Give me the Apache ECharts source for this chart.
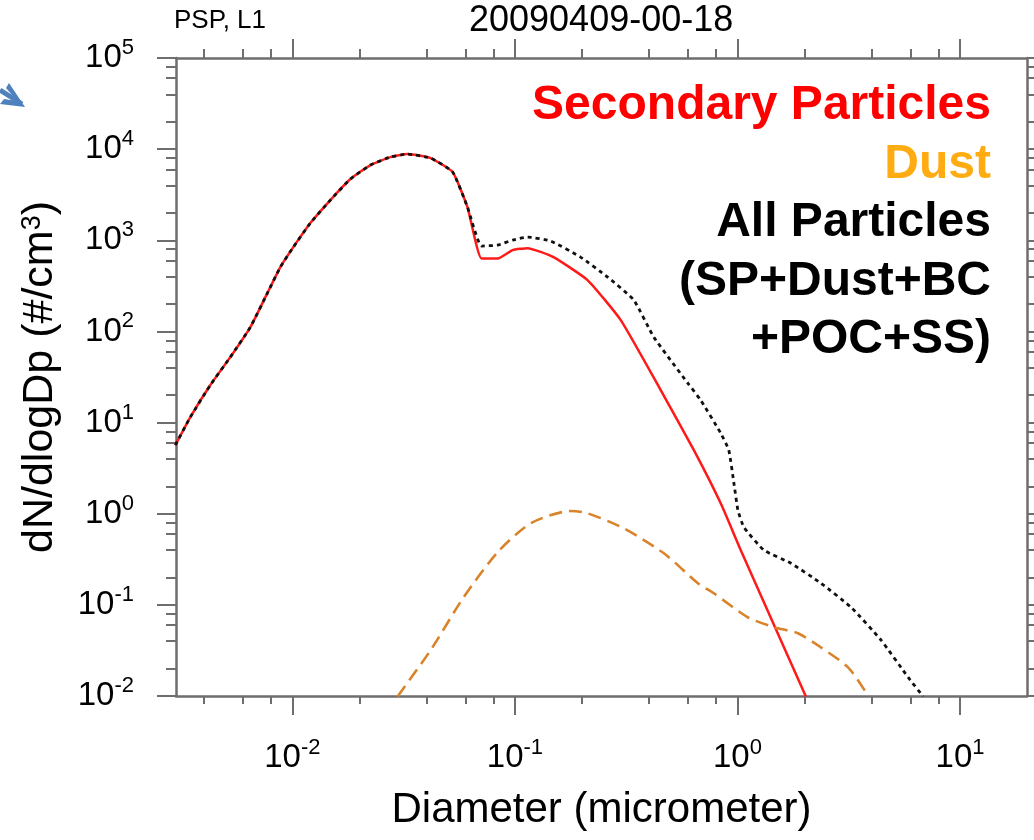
<!DOCTYPE html>
<html>
<head>
<meta charset="utf-8">
<script src="https://cdn.jsdelivr.net/npm/echarts@6/dist/echarts.min.js"></script>
<style>
html, body { margin: 0; padding: 0; background: #fff; }
#chart { width: 1034px; height: 840px; }
</style>
</head>
<body>
<div id="chart"></div>
<script>
// size distribution (diameter in micrometer, dN/dlogDp in #/cm3)
var spDiam = [0.00298, 0.00348, 0.00428, 0.00526, 0.00647, 0.00772, 0.00883, 0.0101, 0.01205, 0.01482, 0.01823, 0.02243, 0.02759, 0.0329, 0.0418, 0.0525, 0.0612, 0.0708, 0.0836, 0.0977, 0.114, 0.149, 0.212, 0.299, 0.452, 0.637, 0.841, 1.035, 2.03];
var spConc = [5.65, 11.5, 25.8, 52.2, 111, 263, 508, 842, 1545, 2762, 4696, 6689, 8183, 8831, 7980, 5610, 2312, 631, 631, 780, 820, 654, 366, 133, 22.7, 4.98, 1.30, 0.398, 0.0099];

var allDiam = [0.00298, 0.00348, 0.00428, 0.00526, 0.00647, 0.00772, 0.00883, 0.0101, 0.01205, 0.01482, 0.01823, 0.02243, 0.02759, 0.0329, 0.0418, 0.0525, 0.0612, 0.0708, 0.0836, 0.0977, 0.114, 0.145, 0.197, 0.261, 0.342, 0.421, 0.598, 0.684, 0.841, 0.914, 0.964, 1.005, 1.069, 1.315, 1.738, 2.37, 3.24, 4.42, 5.85, 6.82];
var allConc = [5.65, 11.5, 25.8, 52.2, 111, 263, 508, 842, 1545, 2762, 4696, 6689, 8183, 8831, 7980, 5610, 2312, 865, 885, 1005, 1084, 980, 654, 395, 221, 86.5, 27.1, 17.6, 7.65, 4.98, 2.16, 1.09, 0.711, 0.398, 0.286, 0.173, 0.094, 0.041, 0.016, 0.0099];

var dustDiam = [0.0297, 0.0418, 0.0588, 0.0836, 0.118, 0.178, 0.212, 0.308, 0.467, 0.664, 0.783, 1.114, 1.459, 1.87, 2.37, 3.14, 3.78, 3.86];
var dustConc = [0.0099, 0.0318, 0.121, 0.378, 0.787, 1.07, 1.01, 0.693, 0.368, 0.173, 0.134, 0.073, 0.0568, 0.0488, 0.0342, 0.0206, 0.011, 0.0099];

var xMajor = [0.01, 0.1, 1, 10];
var xMinor = [0.004, 0.006, 0.008, 0.02, 0.04, 0.06, 0.08, 0.2, 0.4, 0.6, 0.8, 2, 4, 6, 8];
var yMajor = [0.01, 0.1, 1, 10, 100, 1000, 10000, 100000];
var yMinor = [0.02, 0.04, 0.06, 0.08, 0.2, 0.4, 0.6, 0.8, 2, 4, 6, 8, 20, 40, 60, 80,
              200, 400, 600, 800, 2000, 4000, 6000, 8000, 20000, 40000, 60000, 80000];

var legendLines = [
    ['Secondary Particles', '#ff0000'],
    ['Dust', '#ffab12'],
    ['All Particles', '#000000'],
    ['(SP+Dust+BC', '#000000'],
    ['+POC+SS)', '#000000']
];

function pairs(xs, ys) {
    return xs.map(function (x, i) { return [x, ys[i]]; });
}

var FONT = 'Liberation Sans';
var frameColor = '#6e6e6e';

function sci(v) {
    var e = Math.round(Math.log(v) / Math.LN10);
    return '{b|10}{s|' + e + '}';
}
var sciRich = {
    b: { fontSize: 33, fontFamily: FONT, color: '#000', lineHeight: 42 },
    s: { fontSize: 22, fontFamily: FONT, color: '#000', lineHeight: 23, verticalAlign: 'top' }
};

function logAxis(pos, min, max, ticks, len, frame, labels, extra) {
    var ax = {
        type: 'log',
        gridIndex: 0,
        position: pos,
        min: min,
        max: max,
        axisLine: { show: frame, onZero: false, lineStyle: { color: frameColor, width: 2.5 } },
        axisTick: { show: true, customValues: ticks, length: len, lineStyle: { color: frameColor, width: 2 } },
        axisLabel: { show: false },
        splitLine: { show: false },
        minorTick: { show: false }
    };
    if (labels) {
        ax.axisLabel = {
            show: true,
            customValues: ticks,
            formatter: sci,
            rich: sciRich,
            margin: labels
        };
    }
    for (var k in extra) ax[k] = extra[k];
    return ax;
}

var chart = echarts.init(document.getElementById('chart'));

var graphics = legendLines.map(function (l, i) {
    return {
        type: 'text',
        x: 991,
        y: 106 + i * 58.5,
        style: {
            text: l[0],
            fill: l[1],
            font: 'bold 48px "Liberation Sans"',
            align: 'right',
            verticalAlign: 'middle'
        }
    };
});
// slide arrow peeking in at the top left
graphics.push({
    type: 'polyline',
    shape: { points: [[0, 90], [22, 104]] },
    style: { stroke: '#4f81bd', lineWidth: 5, fill: null }
});
graphics.push({
    type: 'polygon',
    shape: { points: [[9, 83], [25, 107], [0, 104], [4, 99], [17, 101], [6, 88]] },
    style: { fill: '#4f81bd' }
});

chart.setOption({
    backgroundColor: '#fff',
    animation: false,
    title: [
        {
            text: 'PSP, L1',
            left: 174,
            top: 8,
            padding: 0,
            textStyle: { fontFamily: FONT, fontSize: 26, fontWeight: 'normal', color: '#000' }
        },
        {
            text: '20090409-00-18',
            left: 469,
            top: 3,
            padding: 0,
            textStyle: { fontFamily: FONT, fontSize: 36, fontWeight: 'normal', color: '#000' }
        }
    ],
    grid: {
        left: 176,
        top: 58,
        right: 7,
        bottom: 144,
        containLabel: false
    },
    xAxis: [
        logAxis('bottom', 0.003, 20, xMajor, 19, true, 41, {
            name: 'Diameter (micrometer)',
            nameLocation: 'middle',
            nameGap: 93,
            nameTextStyle: { fontFamily: FONT, fontSize: 42, color: '#000' }
        }),
        logAxis('bottom', 0.003, 20, xMinor, 8, false, 0, {}),
        logAxis('top', 0.003, 20, xMajor, 19, true, 0, {}),
        logAxis('top', 0.003, 20, xMinor, 9, false, 0, {})
    ],
    yAxis: [
        logAxis('left', 0.01, 100000, yMajor, 19, true, 42, {
            name: 'dN/dlogDp (#/cm{s|3})',
            nameLocation: 'middle',
            nameGap: 114,
            nameRotate: 90,
            nameTextStyle: {
                fontFamily: FONT, fontSize: 43, color: '#000',
                rich: { s: { fontFamily: FONT, fontSize: 27, color: '#000', verticalAlign: 'top', lineHeight: 27 } }
            }
        }),
        logAxis('left', 0.01, 100000, yMinor, 10, false, 0, {}),
        logAxis('right', 0.01, 100000, yMajor, 19, true, 0, {}),
        logAxis('right', 0.01, 100000, yMinor, 8, false, 0, {})
    ],
    graphic: graphics,
    series: [
        {
            name: 'Secondary Particles',
            type: 'line',
            xAxisIndex: 0,
            yAxisIndex: 0,
            data: pairs(spDiam, spConc),
            showSymbol: false,
            smooth: 0.15,
            lineStyle: { color: '#ff1a1a', width: 2.5 },
            z: 3
        },
        {
            name: 'Dust',
            type: 'line',
            xAxisIndex: 0,
            yAxisIndex: 0,
            data: pairs(dustDiam, dustConc),
            showSymbol: false,
            smooth: 0.25,
            lineStyle: { color: '#d9832a', width: 2.6, type: [13, 7] },
            z: 3
        },
        {
            name: 'All Particles',
            type: 'line',
            xAxisIndex: 0,
            yAxisIndex: 0,
            data: pairs(allDiam, allConc),
            showSymbol: false,
            smooth: 0.15,
            lineStyle: { color: '#111', width: 2.8, type: [4, 4] },
            z: 4
        }
    ]
});
</script>
</body>
</html>
